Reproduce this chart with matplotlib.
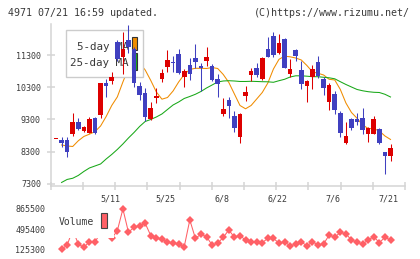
import numpy as np
import matplotlib
matplotlib.use('Agg')
import matplotlib.pyplot as plt
from matplotlib.patches import Rectangle
import matplotlib.transforms as mtransforms

W, H = 420, 259

# daily candles, 4/24 .. 7/21
opens = [8700, 8665, 8665, 8851, 9223, 8953, 8892, 9338, 9440, 10441,
         10494, 11712, 11229, 11765, 11477, 10339, 10131, 9307, 9967, 10556,
         10937, 11092, 11322, 10627, 10990, 11216, 10959, 11123, 10959, 10547,
         9471, 9905, 9409, 8767, 10029, 10680, 10906, 10547, 11477, 11889,
         11371, 11796, 10702, 11455, 10835, 10348, 10627, 11083, 10556, 9852,
         10091, 9493, 8581, 9316, 9316, 9338, 8851, 8851, 9006, 8302,
         8178]
highs = [8700, 8749, 8767, 9493, 9338, 9099, 9369, 9388, 10423, 10547,
         10764, 11765, 12022, 12230, 11550, 10472, 10268, 9852, 10268, 10866,
         11455, 11269, 11477, 10857, 11198, 11641, 11061, 11539, 11021, 10711,
         9976, 10007, 9573, 9493, 10339, 10906, 11061, 11247, 11867, 12013,
         11951, 11836, 11167, 11495, 11114, 10525, 10990, 11269, 10627, 10441,
         10184, 9573, 9232, 9338, 9493, 9666, 9059, 9409, 9028, 8302,
         8541]
lows = [8700, 8439, 8147, 8789, 8975, 8904, 8873, 8851, 9338, 10007,
        10392, 11123, 10711, 11353, 10317, 9905, 9263, 9285, 9821, 10472,
        10782, 10782, 10711, 10317, 10525, 10888, 10184, 10968, 10494, 10007,
        9409, 9357, 8922, 8581, 9874, 10494, 10627, 10525, 11229, 11229,
        11331, 10888, 10609, 11123, 10246, 9852, 10246, 10578, 10060, 9595,
        9471, 8749, 8541, 8975, 9130, 8851, 8612, 8851, 8541, 7611,
        8023]
closes = [8700, 8581, 8302, 9223, 9006, 9068, 9307, 8873, 10423, 10348,
          10627, 11167, 11477, 11539, 10423, 10060, 9387, 9648, 10029, 10751,
          11145, 11061, 10751, 10804, 10711, 11092, 10906, 11247, 10525, 10401,
          9626, 9719, 9046, 9471, 10162, 10804, 10680, 11216, 11247, 11300,
          11681, 10906, 10866, 11278, 10392, 10494, 10866, 10649, 10286, 10370,
          9595, 8873, 8789, 9028, 9232, 8975, 9028, 9316, 8562, 8178,
          8426]
ma5 = [np.nan, 8510, 8479, 8463, 8640, 8774, 8845, 8925, 9099, 9393,
       9735, 10000, 10463, 10897, 11083, 11052, 10835, 10510, 10153, 9930,
       9982, 10184, 10463, 10696, 10851, 10888, 10887, 10882, 10912, 10882,
       10696, 10448, 10091, 9735, 9632, 9735, 9936, 10138, 10432, 10866,
       11167, 11263, 11244, 11207, 11145, 10975, 10779, 10733, 10680, 10547,
       10525, 10231, 9812, 9517, 9338, 9130, 9022, 9015, 8944, 8789,
       8681]
ma25 = [np.nan, 7347, 7441, 7478, 7565, 7689, 7797, 7859, 7921, 8076,
        8216, 8371, 8541, 8727, 8898, 9084, 9239, 9301, 9378, 9471,
        9611, 9750, 9843, 9952, 10014, 10082, 10169, 10277, 10370, 10463,
        10494, 10503, 10494, 10479, 10479, 10485, 10479, 10472, 10469, 10454,
        10503, 10547, 10618, 10655, 10655, 10643, 10627, 10627, 10609, 10593,
        10562, 10472, 10386, 10308, 10231, 10191, 10162, 10144, 10137, 10082,
        9998]
volume = [np.nan, 125300, 204000, 480000, 222800, 162000, 265000, 254000, 440000, 420000,
          327700, 467600, 865500, 438000, 530000, 559000, 603700, 375500, 327700, 309300,
          254000, 236000, 222800, 173000, 664400, 327700, 401300, 357000, 204000, 236000,
          346000, 480000, 346000, 375500, 296400, 265000, 254000, 246700, 327700, 327700,
          236000, 265000, 186000, 222800, 265000, 186000, 265000, 204000, 222800, 388400,
          346000, 438000, 407000, 296400, 254000, 222800, 296400, 357000, 246700, 346000,
          296400]

date_idx = [10, 20, 30, 40, 50, 60]
date_labels = ['5/11', '5/25', '6/8', '6/22', '7/6', '7/21']
price_ticks = [7300, 8300, 9300, 10300, 11300]
vol_ticks = [125300, 495400, 865500]

RED = '#dd0000'
BLUE = '#4040c0'
ORANGE = '#f08c00'
GREEN = '#18a818'
VOLC = '#ff6066'
AXC = '#d4d4d4'
TXT = '#3a3a3a'

plt.rcParams['font.family'] = ['DejaVu Sans Mono']

fig = plt.figure(figsize=(W / 100, H / 100), dpi=100)


def px_box(left, top, right, bottom):
    # pixel box -> figure fraction rect
    return [left / W, 1 - bottom / H, (right - left) / W, (bottom - top) / H]


def fxy(px, py):
    return px / W, 1 - py / H


def px_rect(left, top, right, bottom, **kw):
    x0, y0 = fxy(left, bottom)
    return Rectangle((x0, y0), (right - left) / W, (bottom - top) / H,
                     transform=fig.transFigure, clip_on=False, **kw)


x = np.arange(len(opens))
xlim = (-0.95, 62.6)

# --- price panel
ax = fig.add_axes(px_box(50.7, 24.5, 405, 185.6))
ax.set_xlim(*xlim)
ax.set_ylim(7250, 12246)

o = np.array(opens, dtype=float)
c = np.array(closes, dtype=float)
colors = np.where(c >= o, RED, BLUE)
body_lo = np.minimum(o, c)
body_h = np.maximum(np.abs(c - o), 32)

ax.plot(x, ma5, color=ORANGE, lw=0.75, zorder=2)
ax.plot(x, ma25, color=GREEN, lw=0.75, zorder=2)

# legend box sits under the candles
ax.add_patch(px_rect(65.7, 30, 143.3, 77.3, facecolor='white',
                     edgecolor='#cccccc', lw=1, zorder=3))
ax.text(*fxy(129, 46.7), '5-day MA', transform=fig.transFigure, ha='right',
        va='center', fontsize=7.8, color=TXT, zorder=3.1)
ax.text(*fxy(129, 63.3), '25-day MA', transform=fig.transFigure, ha='right',
        va='center', fontsize=7.8, color=TXT, zorder=3.1)
ax.add_patch(px_rect(131.7, 37.3, 137.3, 50, facecolor=ORANGE,
                     edgecolor='#333333', lw=0.8, zorder=3.2))
ax.add_patch(px_rect(131.7, 53, 137.3, 70, facecolor=GREEN,
                     edgecolor='#333333', lw=0.8, zorder=3.2))

ax.vlines(x, lows, highs, colors=colors, lw=0.75, zorder=4)
ax.bar(x, body_h, bottom=body_lo, width=0.82, color=colors, lw=0, zorder=5)

for side in ['top', 'right']:
    ax.spines[side].set_visible(False)
for side in ['left', 'bottom']:
    ax.spines[side].set_color(AXC)
    ax.spines[side].set_linewidth(1.1)
ax.set_yticks(price_ticks)
ax.set_xticks(np.linspace(*xlim, 12))
ax.tick_params(direction='inout', color=AXC, width=1.1, length=6,
               labelsize=6, labelcolor=TXT)
ax.tick_params(axis='y', pad=4)
ax.tick_params(axis='x', labelbottom=False)

trans = mtransforms.blended_transform_factory(ax.transData, fig.transFigure)
for i, lab in zip(date_idx, date_labels):
    ax.text(i - 0.3, 1 - 199 / H, lab, transform=trans, ha='center',
            va='center', fontsize=6, color=TXT, clip_on=False)

# --- volume panel
ax2 = fig.add_axes(px_box(50.7, 203, 405, 256))
ax2.set_xlim(*xlim)
ax2.set_ylim(2240, 975700)
ax2.plot(x, volume, color=VOLC, lw=0.75, marker='D', ms=3.6, mew=0, zorder=2)
for s in ax2.spines.values():
    s.set_visible(False)
ax2.set_xticks([])
ax2.set_yticks(vol_ticks)
ax2.set_yticklabels([str(v) for v in vol_ticks])
ax2.tick_params(axis='y', length=0, pad=4, labelsize=6, labelcolor=TXT)

ax2.add_patch(px_rect(55, 203, 114, 238, facecolor='white', lw=0, zorder=3))
ax2.text(*fxy(58.3, 222), 'Volume', transform=fig.transFigure, ha='left',
         va='center', fontsize=7, color=TXT, zorder=3.1)
ax2.add_patch(px_rect(101, 213.3, 107.3, 228.3, facecolor=VOLC,
                      edgecolor='#444444', lw=0.8, zorder=3.2))

fig.text(*fxy(8.3, 12.5), '4971 07/21 16:59 updated.', ha='left',
         va='center', fontsize=7.2, color=TXT)
fig.text(*fxy(410, 12.5), '(C)https://www.rizumu.net/', ha='right',
         va='center', fontsize=7.2, color=TXT)

fig.savefig('out.png', dpi=100)
